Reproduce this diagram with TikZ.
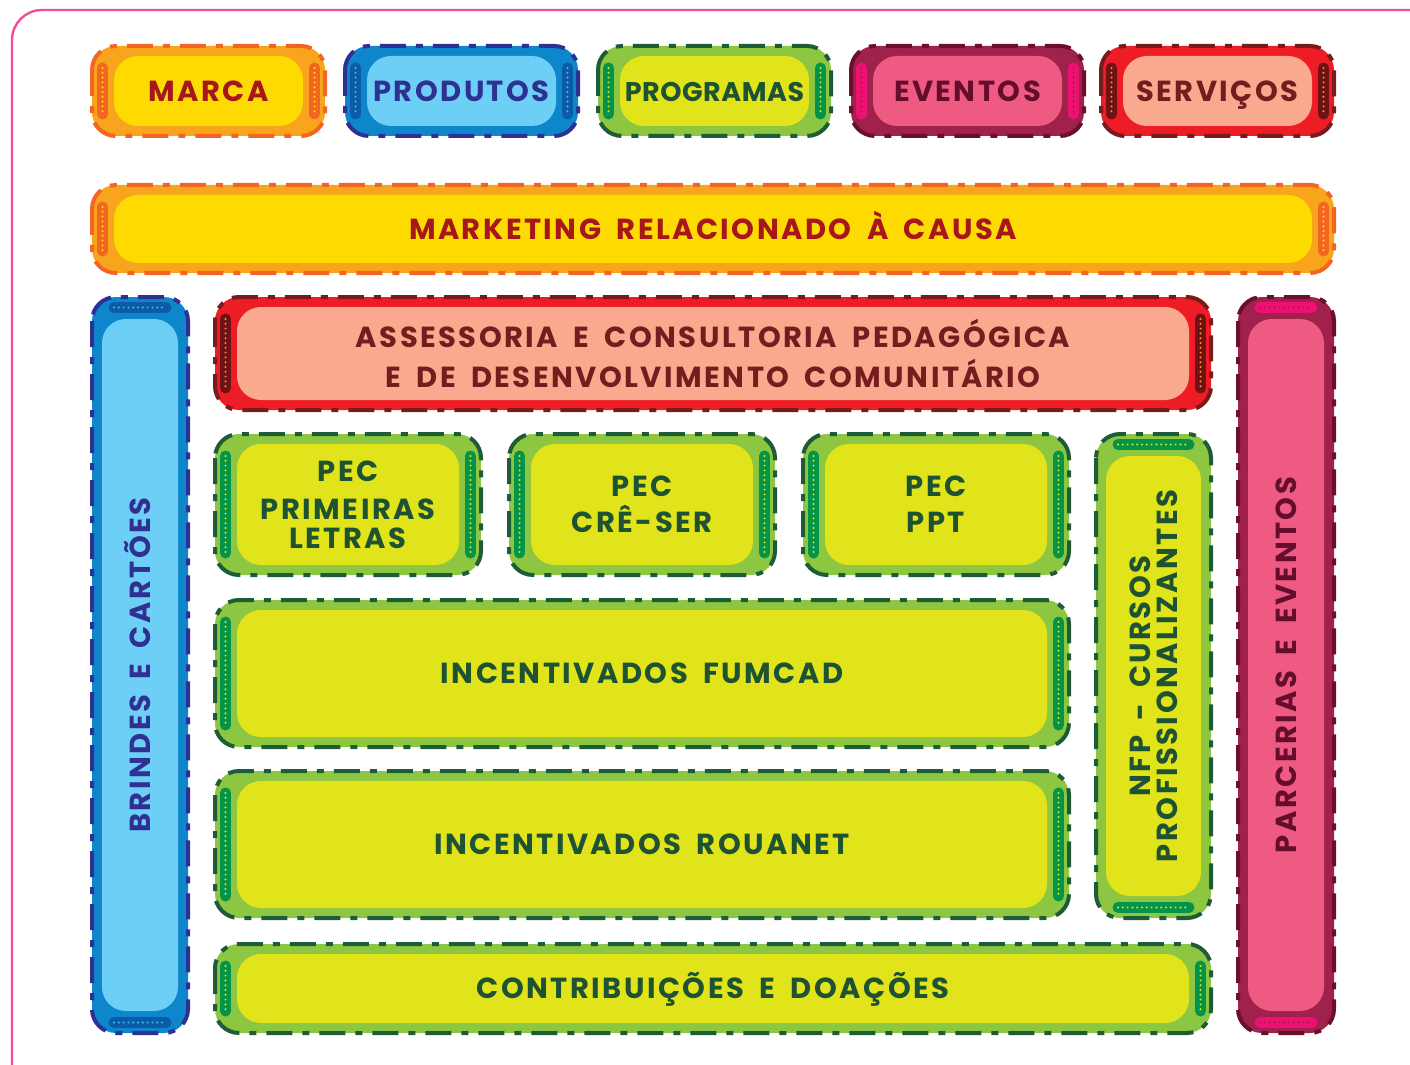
\documentclass[tikz,border=0pt]{standalone}
\usepackage{fontspec}
\newfontfamily\labfont{Poppins}[LetterSpace=8.5, WordSpace=1.8]
\newfontfamily\labtight{Poppins}[LetterSpace=2]
\definecolor{frame}{HTML}{EE4E9B}
\definecolor{oranO}{HTML}{F8A51D}\definecolor{oranI}{HTML}{FDDB00}\definecolor{oranL}{HTML}{F26522}
\definecolor{oranH}{HTML}{F26522}\definecolor{oranD}{HTML}{FFE600}\definecolor{oranT}{HTML}{A6161A}
\definecolor{blueO}{HTML}{0D86CB}\definecolor{blueI}{HTML}{6DCFF6}\definecolor{blueL}{HTML}{2E3192}
\definecolor{blueH}{HTML}{0C5BA6}\definecolor{blueD}{HTML}{3FC1F0}\definecolor{blueT}{HTML}{2E3192}
\definecolor{greenO}{HTML}{8DC641}\definecolor{greenI}{HTML}{E1E31B}\definecolor{greenL}{HTML}{1D5C37}
\definecolor{greenH}{HTML}{03944A}\definecolor{greenD}{HTML}{E1E31B}\definecolor{greenT}{HTML}{1D5232}
\definecolor{pinkO}{HTML}{A0214B}\definecolor{pinkI}{HTML}{EF5A82}\definecolor{pinkL}{HTML}{6B0F2D}
\definecolor{pinkH}{HTML}{EC1173}\definecolor{pinkD}{HTML}{A0214B}\definecolor{pinkT}{HTML}{650D2C}
\definecolor{redO}{HTML}{EE1C25}\definecolor{redI}{HTML}{F8A98E}\definecolor{redL}{HTML}{781B1C}
\definecolor{redH}{HTML}{6E1216}\definecolor{redD}{HTML}{F7941D}\definecolor{redT}{HTML}{761B1E}
\tikzset{
  outerbox/.style={rounded corners=12pt},
  innerbox/.style={rounded corners=12pt},
  borderline/.style={line width=2pt, dash pattern=on 13pt off 5pt on 3.5pt off 5pt, rounded corners=12pt},
  handle/.style={line width=5.5pt, line cap=round},
  handledots/.style={line width=1.1pt, line cap=round, dash pattern=on 0pt off 2.4pt},
  lab/.style={font=\labfont\bfseries\fontsize{14.5}{18}\selectfont, align=center, inner sep=0pt},
  oneline/.style={text height=10.2pt, text depth=0pt},
}
% horizontal ribbon: name, x1, y1, x2, y2, theme, text, options
\newcommand\ribh[8]{%
  \fill[#6O, outerbox] (#2,#3) rectangle (#4,#5);
  \fill[#6I, innerbox] ({#2+22},{#3+10}) rectangle ({#4-22},{#5-10});
  \draw[#6H, handle] ({#2+10.5},{#3+22}) -- ({#2+10.5},{#5-22});
  \draw[#6D, handledots] ({#2+10.5},{#3+22}) -- ({#2+10.5},{#5-22});
  \draw[#6H, handle] ({#4-10.5},{#3+22}) -- ({#4-10.5},{#5-22});
  \draw[#6D, handledots] ({#4-10.5},{#3+22}) -- ({#4-10.5},{#5-22});
  \draw[#6L, borderline] (#2,#3) rectangle (#4,#5);
  \node[lab, text=#6T, #8] (#1) at ({(#2+#4)/2},{(#3+#5)/2}) {#7};
}
% vertical ribbon
\newcommand\ribv[8]{%
  \fill[#6O, outerbox] (#2,#3) rectangle (#4,#5);
  \fill[#6I, innerbox] ({#2+10},{#3+22}) rectangle ({#4-10},{#5-22});
  \draw[#6H, handle] ({#2+22},{#3+10.5}) -- ({#4-22},{#3+10.5});
  \draw[#6D, handledots] ({#2+22},{#3+10.5}) -- ({#4-22},{#3+10.5});
  \draw[#6H, handle] ({#2+22},{#5-10.5}) -- ({#4-22},{#5-10.5});
  \draw[#6D, handledots] ({#2+22},{#5-10.5}) -- ({#4-22},{#5-10.5});
  \draw[#6L, borderline] (#2,#3) rectangle (#4,#5);
  \node[lab, text=#6T, rotate=90, #8] (#1) at ({(#2+#4)/2},{(#3+#5)/2}) {#7};
}
\begin{document}
\begin{tikzpicture}[x=0.5pt, y=-0.5pt]
\useasboundingbox (0,0) rectangle (1410,1065);
\begin{scope}
  \clip (0,0) rectangle (1410,1065);
  \draw[frame, line width=1.2pt, rounded corners=15pt] (12,10) rectangle (1440,1100);
\end{scope}
% top row
\ribh{marca}{92}{46}{325}{136}{oran}{MARCA}{oneline}
\ribh{produtos}{345}{46}{578}{136}{blue}{PRODUTOS}{oneline}
\ribh{programas}{598}{46}{831}{136}{green}{PROGRAMAS}{oneline, font=\labtight\bfseries\fontsize{13.5}{18}\selectfont}
\ribh{eventos}{851}{46}{1084}{136}{pink}{EVENTOS}{oneline}
\ribh{servicos}{1101}{46}{1334}{136}{red}{SERVIÇOS}{oneline}
% marketing
\ribh{marketing}{92}{185}{1334}{273}{oran}{MARKETING RELACIONADO À CAUSA}{oneline}
% side columns
\ribv{brindes}{92}{297}{188}{1033}{blue}{BRINDES E CARTÕES}{oneline}
\ribv{parcerias}{1238}{297}{1334}{1033}{pink}{PARCERIAS E EVENTOS}{oneline}
% assessoria
\ribh{assessoria}{215}{297}{1211}{410}{red}{ASSESSORIA E CONSULTORIA PEDAGÓGICA\\[2pt]E DE DESENVOLVIMENTO COMUNITÁRIO}{}
% PEC row
\ribh{pecpl}{215}{434}{481}{575}{green}{PEC\\[1pt]PRIMEIRAS\\[-3.5pt]LETRAS}{}
\ribh{peccs}{509}{434}{775}{575}{green}{PEC\\CRÊ-SER}{}
\ribh{pecppt}{803}{434}{1069}{575}{green}{PEC\\PPT}{}
\ribv{nfp}{1096}{434}{1211}{918}{green}{NFP - CURSOS\\[-4.5pt]PROFISSIONALIZANTES}{}
% incentivados
\ribh{fumcad}{215}{600}{1069}{747}{green}{INCENTIVADOS FUMCAD}{oneline}
\ribh{rouanet}{215}{771}{1069}{918}{green}{INCENTIVADOS ROUANET}{oneline}
% contribuicoes
\ribh{contrib}{215}{944}{1211}{1033}{green}{CONTRIBUIÇÕES E DOAÇÕES}{oneline}
\end{tikzpicture}
\end{document}
